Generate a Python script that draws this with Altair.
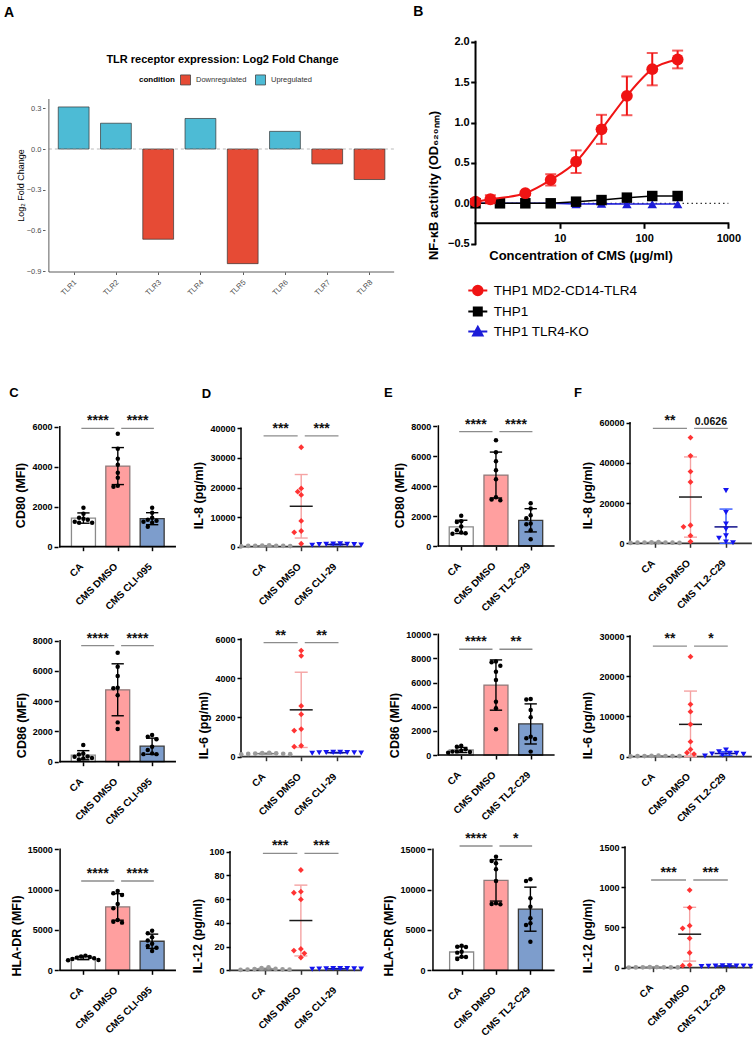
import altair as alt
import pandas as pd

FONT = "Liberation Sans"

# ---------------- A: TLR receptor expression ----------------
TLR_NAMES = ["TLR1", "TLR2", "TLR3", "TLR4", "TLR5", "TLR6", "TLR7", "TLR8"]
TLR_LOG2FC = [0.31, 0.19, -0.665, 0.225, -0.845, 0.13, -0.11, -0.225]

# ---------------- B: NF-kB reporter dose response ----------------
SERIES_B = ["THP1 MD2-CD14-TLR4", "THP1", "THP1 TLR4-KO"]
CONC_TLR4 = [1, 1.5, 3.9, 7.8, 15.6, 31.25, 62.5, 125, 250]
OD_TLR4 = [0.02, 0.05, 0.125, 0.29, 0.515, 0.915, 1.33, 1.66, 1.78]
SD_TLR4 = [0.03, 0.05, 0.02, 0.07, 0.14, 0.18, 0.24, 0.20, 0.11]
CONC_THP1 = [1, 1.95, 3.9, 7.8, 15.6, 31.25, 62.5, 125, 250]
OD_THP1 = [0.0, 0.0, 0.0, 0.0, 0.02, 0.04, 0.07, 0.09, 0.09]
OD_KO = [0.0, 0.0, 0.0, 0.0, -0.01, -0.005, -0.01, -0.01, -0.01]

# ---------------- C: surface markers, CLI-095 ----------------
CD80_CLI_CA = [1950, 1650, 1450, 1400, 1350, 1250, 1200, 1200]
CD80_CLI_DMSO = [5650, 4900, 4400, 4100, 3700, 3450, 3050, 3000]
CD80_CLI_INH = [1950, 1700, 1450, 1350, 1300, 1250, 1200, 1000]
CD86_CLI_CA = [1100, 550, 480, 350, 330, 250, 220, 150]
CD86_CLI_DMSO = [7200, 6280, 5660, 4890, 4850, 4400, 2600, 2160]
CD86_CLI_INH = [1760, 1650, 1480, 990, 770, 550, 500, 500]
HLA_CLI_CA = [1820, 1700, 1650, 1570, 1490, 1400, 1280, 1250]
HLA_CLI_DMSO = [9835, 9545, 9340, 8220, 7690, 6240, 6030, 5910]
HLA_CLI_INH = [4900, 4600, 4100, 3700, 3300, 3000, 2800, 2400]

# ---------------- D: cytokines, CLI-29 ----------------
IL8_CLI_CA = [450, 300, 250, 350, 200, 150, 300, 250]
IL8_CLI_DMSO = [33600, 19700, 18600, 17500, 8700, 5300, 4850, 1000]
IL8_CLI_INH = [1000, 900, 800, 800, 700, 700, 600, 500]
IL6_CLI_CA = [200, 180, 170, 160, 150, 140, 130, 120]
IL6_CLI_DMSO = [5410, 5140, 2590, 2160, 1410, 1330, 560, 510]
IL6_CLI_INH = [230, 220, 210, 210, 200, 200, 190, 180]
IL12_CLI_CA = [2.5, 1.8, 1.2, 1.0, 0.8, 0.6, 0.5, 0.3]
IL12_CLI_DMSO = [84.6, 66.3, 65.4, 59.8, 18.0, 16.6, 14.3, 10.7]
IL12_CLI_INH = [1.6, 1.5, 1.4, 1.3, 1.2, 1.1, 1.0, 0.9]

# ---------------- E: surface markers, TL2-C29 ----------------
CD80_TL2_CA = [2020, 1650, 1600, 1300, 1050, 900, 850, 820]
CD80_TL2_DMSO = [7050, 6250, 5650, 5050, 4450, 3250, 3100, 3050]
CD80_TL2_INH = [2850, 2500, 2050, 1850, 1500, 1450, 1050, 450]
CD86_TL2_CA = [770, 690, 470, 360, 300, 280, 250, 190]
CD86_TL2_DMSO = [7740, 7680, 7400, 6900, 6220, 4420, 3870, 2130]
CD86_TL2_INH = [4640, 4590, 3730, 3120, 1520, 1380, 1330, 280]
HLA_TL2_CA = [3060, 2930, 2900, 2310, 2190, 1690, 1650, 1400]
HLA_TL2_DMSO = [14090, 13550, 13260, 12520, 11070, 8310, 8220, 8180]
HLA_TL2_INH = [11280, 11070, 8930, 7890, 6450, 5830, 5620, 3550]

# ---------------- F: cytokines, TL2-C29 ----------------
IL8_TL2_CA = [600, 500, 400, 400, 300, 300, 200, 200]
IL8_TL2_DMSO = [52600, 43500, 35700, 30500, 9000, 8200, 3800, 850]
IL8_TL2_INH = [26200, 15300, 9600, 7000, 3800, 2500, 600, 300]
IL6_TL2_CA = [250, 200, 180, 160, 150, 140, 120, 100]
IL6_TL2_DMSO = [24860, 13010, 11190, 8040, 3730, 1820, 990, 660]
IL6_TL2_INH = [1660, 1240, 830, 830, 660, 580, 410, 170]
IL12_TL2_CA = [8, 6, 5, 5, 4, 3, 3, 2]
IL12_TL2_DMSO = [965, 746, 522, 489, 365, 186, 33, 25]
IL12_TL2_INH = [25, 24, 22, 21, 20, 19, 18, 15]

# significance brackets (height in data units) and their labels
SIG_C1, BR_C1 = ["****", "****"], 5920
SIG_D1, BR_D1 = ["***", "***"], 37430
SIG_E1, BR_E1 = ["****", "****"], 7620
SIG_F1, BR_F1 = ["**", "0.0626"], 57200
SIG_C2, BR_C2 = ["****", "****"], 7670
SIG_D2, BR_D2 = ["**", "**"], 5820
SIG_E2, BR_E2 = ["****", "**"], 8760
SIG_F2, BR_F2 = ["**", "*"], 27500
SIG_C3, BR_C3 = ["****", "****"], 11070
SIG_D3, BR_D3 = ["***", "***"], 98.6
SIG_E3, BR_E3 = ["****", "*"], 15410
SIG_F3, BR_F3 = ["***", "***"], 1090

# ---------------- styling ----------------
BAR_FILL = ["#FFFFFF", "#FF9F9F", "#7D9DCC"]
BAR_EDGE = ["#8A8A8A", "#8E7A7A", "#3A3A3A"]
DOT_POINT = ["#9B9B9B", "#FF3333", "#1414F0"]
DOT_SHAPE = ["circle", "diamond", "triangle-down"]
DOT_SIZE = [22, 34, 34]
DOT_ERR = ["#A6A6A6", "#F5A3A3", "#3355FF"]
DOT_MEAN = ["#7A7A7A", "#1A1A1A", "#10108A"]
RED_B = "#F01414"
BLUE_B = "#1C1CD8"


def swarm(values, ymax, height, gap, step):
    """Horizontal pixel offsets that keep the dots of one group apart."""
    placed = []
    offs = [0.0] * len(values)
    order = sorted(range(len(values)), key=lambda i: -values[i])
    cands = [0.0]
    for j in range(1, 25):
        cands += [-j * step, j * step]
    for i in order:
        y = values[i] / ymax * height
        for c in cands:
            if all((c - xo) ** 2 + (y - yo) ** 2 >= gap ** 2 - 1e-9 for yo, xo in placed):
                break
        placed.append((y, c))
        offs[i] = c
    ys = [v / ymax * height for v in values]
    if max(ys) - min(ys) < gap:
        m = (max(offs) + min(offs)) / 2
        offs = [o - m for o in offs]
    return offs


def tag_title(text, dx, dy, fs=13):
    return alt.TitleParams(text, anchor="start", frame="group", dx=dx, dy=dy, offset=0,
                           baseline="alphabetic", fontSize=fs, fontWeight="bold", font=FONT,
                           color="black")


def panel(kind, vals, inh, ytitle, ymax, ystep, canvas, geom, br_y, sig, tag=None):
    # canvas: page box of this cell; geom: axis x, x-axis end, y of top tick, y of zero, x range
    cx0, cy0, cw, chh = canvas
    ax, rx, ty, zy, lo, hi = geom
    ppu = (rx - ax) / (hi - lo)
    ppy = (zy - ty) / ymax
    xd = [lo - (ax - cx0) / ppu, hi + (cx0 + cw - rx) / ppu]
    yd = [-(cy0 + chh - zy) / ppy, ymax + (ty - cy0) / ppy]
    dark = "black" if kind == "bar" else "#333333"
    rows = []
    for gi, v in enumerate(vals):
        if kind == "bar":
            offs = swarm(v, ymax, zy - ty, 4.6, 4.6)
        else:
            offs = swarm(v, ymax, zy - ty, 4.5, 3.5)
        for val, off in zip(v, offs):
            rows.append(dict(idx=gi, val=val, pos=gi + off / ppu,
                             fillc=BAR_FILL[gi], strokec=BAR_EDGE[gi],
                             ptc=DOT_POINT[gi], shp=DOT_SHAPE[gi], sz=DOT_SIZE[gi],
                             errc=DOT_ERR[gi], meanc=DOT_MEAN[gi]))
    df = pd.DataFrame(rows)
    xs = alt.Scale(domain=xd, nice=False, zero=False)
    ys = alt.Scale(domain=yd, nice=False, zero=False)
    xa = alt.Axis(title=None, values=[0, 1, 2],
                  labelExpr="['CA', 'CMS DMSO', '%s'][datum.value]" % inh,
                  labelAngle=-45, labelAlign="right", labelBaseline="alphabetic",
                  labelPadding=16, labelOffset=0, labelFont=FONT, labelFontSize=10,
                  labelFontWeight="bold", labelColor="black", labelOverlap=False,
                  labelFlush=False, tickSize=4, tickWidth=1.5, tickColor=dark, domain=False,
                  grid=False, offset=-(cy0 + chh - zy))
    ya = alt.Axis(title=ytitle, values=list(range(0, int(ymax) + 1, int(ystep))), format="d",
                  grid=False, labelFlush=False, domain=False, offset=-(ax - cx0),
                  labelFont=FONT, labelFontSize=9, labelFontWeight="bold", labelColor="black",
                  labelPadding=2, tickSize=4, tickWidth=1.5, tickColor="black",
                  titleFont=FONT, titleFontSize=12.5, titleFontWeight="bold",
                  titleColor="black", titlePadding=4)

    def X(f):
        return alt.X(f, type="quantitative", scale=xs, axis=xa)

    def Y(f):
        return alt.Y(f, type="quantitative", scale=ys, axis=ya)

    cap_u = 6.5 / ppu
    mean_u = 11.5 / ppu
    base = alt.Chart(df)
    agg = base.transform_aggregate(
        m="mean(val)", s="stdev(val)",
        groupby=["idx", "fillc", "strokec", "errc", "meanc"],
    ).transform_calculate(
        lo="max(0, datum.m - datum.s)", hi="datum.m + datum.s",
        cl="datum.idx - %f" % cap_u, cr="datum.idx + %f" % cap_u,
        ml="datum.idx - %f" % mean_u, mr="datum.idx + %f" % mean_u,
    )
    frame = pd.DataFrame({"x0": [lo], "x1": [hi], "y0": [0], "y1": [ymax]})
    axis_lines = [
        alt.Chart(frame).mark_rule(color="black", strokeWidth=1.5, strokeCap="square").encode(
            x=X("x0"), y=Y("y0"), y2=alt.Y2("y1")),
        alt.Chart(frame).mark_rule(color=dark, strokeWidth=1.7, strokeCap="square").encode(
            x=X("x0"), x2=alt.X2("x1"), y=Y("y0")),
    ]
    layers = []
    if kind == "bar":
        layers.append(agg.mark_bar(size=24, strokeWidth=1.3).encode(
            x=X("idx"), y=Y("m"), y2=alt.Y2(datum=0),
            fill=alt.Fill("fillc:N", scale=None), stroke=alt.Stroke("strokec:N", scale=None)))
        layers += axis_lines
        layers.append(agg.mark_rule(color="black", strokeWidth=1.4).encode(
            x=X("idx"), y=Y("lo"), y2=alt.Y2("hi")))
        for f in ("hi", "lo"):
            layers.append(agg.mark_rule(color="black", strokeWidth=1.4).encode(
                x=X("cl"), x2=alt.X2("cr"), y=Y(f)))
        layers.append(base.mark_circle(size=20, color="black", opacity=1).encode(
            x=X("pos"), y=Y("val")))
    else:
        layers += axis_lines
        layers.append(agg.mark_rule(strokeWidth=1.4).encode(
            x=X("idx"), y=Y("lo"), y2=alt.Y2("hi"), stroke=alt.Stroke("errc:N", scale=None)))
        for f in ("hi", "lo"):
            layers.append(agg.mark_rule(strokeWidth=1.4).encode(
                x=X("cl"), x2=alt.X2("cr"), y=Y(f), stroke=alt.Stroke("errc:N", scale=None)))
        layers.append(agg.mark_rule(strokeWidth=1.5).encode(
            x=X("ml"), x2=alt.X2("mr"), y=Y("m"), stroke=alt.Stroke("meanc:N", scale=None)))
        layers.append(base.mark_point(filled=True, opacity=1, strokeWidth=0).encode(
            x=X("pos"), y=Y("val"),
            fill=alt.Fill("ptc:N", scale=None), shape=alt.Shape("shp:N", scale=None),
            size=alt.Size("sz:Q", scale=None)))
    x1 = [-0.06, 1.1]
    x2 = [0.9, 2.05]
    br = pd.DataFrame({"x1": x1, "x2": x2, "y": [br_y, br_y], "label": sig,
                       "xm": [(a + b) / 2 for a, b in zip(x1, x2)],
                       "fs": [14 if "*" in s else 10.5 for s in sig]})
    layers.append(alt.Chart(br).mark_rule(color="#8C8C8C", strokeWidth=1.3).encode(
        x=X("x1"), x2=alt.X2("x2"), y=Y("y")))
    layers.append(alt.Chart(br).mark_text(font=FONT, fontWeight="bold", baseline="alphabetic",
                                          dy=-3, color="#111111").encode(
        x=X("xm"), y=Y("y"), text="label:N", size=alt.Size("fs:Q", scale=None)))
    ch = alt.layer(*layers).properties(width=cw, height=chh)
    if tag is not None:
        ch = ch.properties(title=tag)
    return ch


# ---------------- chart A (canvas 0..405 x 0..370) ----------------
A_W, A_H = 405, 370
A_STEP, A_C0 = 43.33, 70.4          # band step and first bar centre (px)
A_ZERO, A_PPY = 149.0, 135.67       # y of 0 and px per log2 unit
A_LEFT, A_RIGHT, A_TOP, A_BOTTOM = 45.0, 399.0, 99.0, 272.0
ax_lo = (A_LEFT - A_C0) / A_STEP
ax_hi = (A_RIGHT - A_C0) / A_STEP
ay_lo = -(A_BOTTOM - A_ZERO) / A_PPY
ay_hi = (A_ZERO - A_TOP) / A_PPY
xsA = alt.Scale(domain=[-A_C0 / A_STEP, (A_W - A_C0) / A_STEP], nice=False, zero=False)
ysA = alt.Scale(domain=[-(A_H - A_ZERO) / A_PPY, A_ZERO / A_PPY], nice=False, zero=False)
axA = alt.Axis(title="TLR receptor expression: Log2 Fold Change", titleX=222, titleY=62.7 - A_BOTTOM,
               titleAlign="center", titleBaseline="alphabetic", titleAngle=0, titleFont=FONT,
               titleFontSize=11, titleFontWeight="bold", titleColor="black",
               values=list(range(8)), labelExpr="%s[datum.value]" % str(TLR_NAMES),
               labelAngle=-45, labelAlign="right", labelBaseline="alphabetic", labelFont=FONT,
               labelFontSize=7.5, labelColor="#4D4D4D", labelPadding=7.8, labelOffset=2.9,
               labelFlush=False, labelOverlap=False, tickSize=2.5, tickColor="#333333",
               tickWidth=0.8, domain=False, grid=False, offset=-(A_H - A_BOTTOM))
ayA = alt.Axis(title="Log₂ Fold Change", values=[-0.9, -0.6, -0.3, 0.0, 0.3], format=".1f",
               grid=False, labelFlush=False, labelFont=FONT, labelFontSize=7.5,
               labelColor="#4D4D4D", labelPadding=1.5, tickSize=2.5, tickColor="#333333",
               tickWidth=0.8, domain=False, offset=-A_LEFT,
               titleFont=FONT, titleFontSize=9, titleFontWeight="normal",
               titleColor="black", minExtent=20, maxExtent=20, titlePadding=0)


def XA(f):
    return alt.X(f, type="quantitative", scale=xsA, axis=axA)


def YA(f):
    return alt.Y(f, type="quantitative", scale=ysA, axis=ayA)


dfA = pd.DataFrame({"idx": list(range(len(TLR_NAMES))), "lfc": TLR_LOG2FC})
dfA["condition"] = ["Upregulated" if v > 0 else "Downregulated" for v in TLR_LOG2FC]
legA = alt.Legend(orient="none", legendX=139, legendY=74, direction="horizontal",
                  title="condition", titleOrient="left", titleFont=FONT, titleFontSize=8,
                  titleFontWeight="bold", titleColor="black", titlePadding=5,
                  labelFont=FONT, labelFontSize=7.5, labelColor="#333333", labelOffset=5,
                  symbolType="square", symbolSize=100, symbolStrokeColor="#444444",
                  symbolStrokeWidth=0.8, columnPadding=6, padding=0)
barsA = alt.Chart(dfA).mark_bar(size=30.8, stroke="#333333", strokeWidth=0.7).encode(
    x=XA("idx"), y=YA("lfc"), y2=alt.Y2(datum=0),
    color=alt.Color("condition:N", scale=alt.Scale(domain=["Downregulated", "Upregulated"],
                                                   range=["#E64B35", "#4DBBD5"]), legend=legA))
frameA = pd.DataFrame({"x0": [ax_lo], "x1": [ax_hi], "y0": [ay_lo], "y1": [ay_hi], "z": [0.0]})
zeroA = alt.Chart(frameA).mark_rule(strokeDash=[3, 3], color="#9E9E9E", strokeWidth=0.7).encode(
    x=XA("x0"), x2=alt.X2("x1"), y=YA("z"))
yLineA = alt.Chart(frameA).mark_rule(color="#333333", strokeWidth=0.8).encode(
    x=XA("x0"), y=YA("y0"), y2=alt.Y2("y1"))
xLineA = alt.Chart(frameA).mark_rule(color="#333333", strokeWidth=0.8).encode(
    x=XA("x0"), x2=alt.X2("x1"), y=YA("y0"))
chartA = alt.layer(barsA, zeroA, yLineA, xLineA).properties(
    width=A_W, height=A_H, title=tag_title("A", 4, 31, 14))

# ---------------- chart B (canvas 405..756 x 0..370) ----------------
B_X0, B_W, B_H = 405, 351, 370
B_AX, B_DEC = 475.7, 84.5           # x of conc 1 and px per decade
B_ZERO, B_PPY = 203.3, 80.8         # y of OD 0 and px per OD unit
B_XAXIS_Y = 223.3                   # where the x axis crosses
xsB = alt.Scale(type="log", nice=False,
                domain=[10 ** (-(B_AX - B_X0) / B_DEC), 10 ** (3 + (B_X0 + B_W - 728.3) / B_DEC)])
ysB = alt.Scale(domain=[-(B_H - B_ZERO) / B_PPY, B_ZERO / B_PPY], nice=False, zero=False)
axB = alt.Axis(values=[10, 100, 1000], format="d", title="Concentration of CMS (μg/ml)",
               offset=-(B_H - B_XAXIS_Y), domain=False, grid=False, labelFlush=False,
               labelFont=FONT, labelFontSize=11, labelFontWeight="bold", labelColor="black",
               labelPadding=4, tickSize=5, tickWidth=2, tickColor="black",
               titleFont=FONT, titleFontSize=13, titleFontWeight="bold",
               titleColor="black", titlePadding=6)
ayB = alt.Axis(values=[-0.5, 0, 0.5, 1, 1.5, 2], format=".1f", title="NF-κB activity (OD₆₂₀ₙₘ)",
               grid=False, labelFlush=False, domain=False, offset=-(B_AX - B_X0),
               labelFont=FONT, labelFontSize=11, labelFontWeight="bold", labelColor="black",
               labelPadding=1.5, tickSize=5, tickWidth=2, tickColor="black",
               titleFont=FONT, titleFontSize=13, titleFontWeight="bold", titleColor="black",
               minExtent=35, maxExtent=35, titlePadding=0)


def XB(f):
    return alt.X(f, type="quantitative", scale=xsB, axis=axB)


def YB(f):
    return alt.Y(f, type="quantitative", scale=ysB, axis=ayB)


dfT = pd.DataFrame({"conc": CONC_TLR4, "od": OD_TLR4, "sd": SD_TLR4})
dfP = pd.DataFrame({"conc": CONC_THP1, "od": OD_THP1})
dfK = pd.DataFrame({"conc": CONC_THP1, "od": OD_KO})
frameB = pd.DataFrame({"c0": [1], "c1": [1000], "lo": [-0.5], "hi": [2.0], "z": [0.0],
                       "xa": [-(B_XAXIS_Y - B_ZERO) / B_PPY]})

zeroB = alt.Chart(frameB).mark_rule(strokeDash=[1.5, 3], color="black", strokeWidth=1).encode(
    x=XB("c0"), x2=alt.X2("c1"), y=YB("z"))
yLineB = alt.Chart(frameB).mark_rule(color="black", strokeWidth=2, strokeCap="square").encode(
    x=XB("c0"), y=YB("lo"), y2=alt.Y2("hi"))
xLineB = alt.Chart(frameB).mark_rule(color="black", strokeWidth=2, strokeCap="square").encode(
    x=XB("c0"), x2=alt.X2("c1"), y=YB("xa"))
lineK = alt.Chart(dfK).mark_line(color=BLUE_B, strokeWidth=1.5).encode(x=XB("conc"), y=YB("od"))
ptK = alt.Chart(dfK).mark_point(shape="triangle-up", filled=True, size=90, color=BLUE_B,
                                opacity=1).encode(x=XB("conc"), y=YB("od"))
lineP = alt.Chart(dfP).mark_line(color="black", strokeWidth=1.5).encode(x=XB("conc"), y=YB("od"))
ptP = alt.Chart(dfP).mark_point(shape="square", filled=True, size=110, color="black",
                                opacity=1).encode(x=XB("conc"), y=YB("od"))
errBase = alt.Chart(dfT).transform_calculate(lo="datum.od - datum.sd", hi="datum.od + datum.sd")
errT = errBase.mark_rule(color=RED_B, strokeWidth=2).encode(x=XB("conc"), y=YB("lo"),
                                                            y2=alt.Y2("hi"))
capHi = errBase.mark_tick(orient="horizontal", size=11, thickness=2, color=RED_B).encode(
    x=XB("conc"), y=YB("hi"))
capLo = errBase.mark_tick(orient="horizontal", size=11, thickness=2, color=RED_B).encode(
    x=XB("conc"), y=YB("lo"))
lineT = alt.Chart(dfT).mark_line(color=RED_B, strokeWidth=2, interpolate="monotone").encode(
    x=XB("conc"), y=YB("od"))
ptT = alt.Chart(dfT).mark_point(shape="circle", filled=True, size=140, color=RED_B,
                                opacity=1).encode(x=XB("conc"), y=YB("od"))

LEG_PATHS = [
    "M-1,0H1M0.5,0A0.5,0.5,0,1,1,-0.5,0A0.5,0.5,0,1,1,0.5,0Z",
    "M-1,0H1M-0.42,-0.42H0.42V0.42H-0.42Z",
    "M-1,0H1M0,-0.5L0.5,0.42H-0.5Z",
]
legB = alt.Legend(title=None, orient="none", legendX=467.3 - B_X0, legendY=280, symbolSize=361,
                  symbolStrokeWidth=2, labelFont=FONT, labelFontSize=13.5, labelColor="black",
                  labelOffset=5.4, rowPadding=1, padding=0, labelLimit=300)
colB = alt.Scale(domain=SERIES_B, range=[RED_B, "black", BLUE_B])
legendLayer = alt.Chart(pd.DataFrame({"series": SERIES_B})).transform_filter("false").mark_point(
    filled=True, opacity=1, strokeWidth=2).encode(
    fill=alt.Fill("series:N", scale=colB, legend=legB),
    stroke=alt.Stroke("series:N", scale=colB, legend=legB),
    shape=alt.Shape("series:N", scale=alt.Scale(domain=SERIES_B, range=LEG_PATHS), legend=legB))

chartB = alt.layer(zeroB, lineK, ptK, lineP, ptP, errT, capHi, capLo, lineT, ptT, yLineB, xLineB,
                   legendLayer).properties(width=B_W, height=B_H,
                                           title=tag_title("B", 413.3 - B_X0, 30, 14))

# ---------------- panels C-F ----------------
COLS = [(0, 182), (182, 190), (372, 195), (567, 189)]
ROWS = [(370, 250), (620, 210), (830, 211)]


def cv(c, r):
    return (COLS[c][0], ROWS[r][0], COLS[c][1], ROWS[r][1])


C1 = panel("bar", (CD80_CLI_CA, CD80_CLI_DMSO, CD80_CLI_INH), "CMS CLI-095", "CD80 (MFI)",
           6000, 2000, cv(0, 0), (58, 180, 426.7, 546.7, -0.688, 2.668), BR_C1, SIG_C1,
           tag_title("C", 9.3, 40))
D1 = panel("dot", (IL8_CLI_CA, IL8_CLI_DMSO, IL8_CLI_INH), "CMS CLI-29", "IL-8 (pg/ml)",
           40000, 10000, cv(1, 0), (241, 360, 428.3, 546.7, -0.696, 2.656), BR_D1, SIG_D1,
           tag_title("D", 19.7, 41))
E1 = panel("bar", (CD80_TL2_CA, CD80_TL2_DMSO, CD80_TL2_INH), "CMS TL2-C29", "CD80 (MFI)",
           8000, 2000, cv(2, 0), (436.7, 558.3, 426, 546, -0.658, 2.664), BR_E1, SIG_E1,
           tag_title("E", 12, 40))
F1 = panel("dot", (IL8_TL2_CA, IL8_TL2_DMSO, IL8_TL2_INH), "CMS TL2-C29", "IL-8 (pg/ml)",
           60000, 20000, cv(3, 0), (630, 751, 422.7, 543.3, -0.704, 2.704), BR_F1, SIG_F1,
           tag_title("F", 7, 40))
C2 = panel("bar", (CD86_CLI_CA, CD86_CLI_DMSO, CD86_CLI_INH), "CMS CLI-095", "CD86 (MFI)",
           8000, 2000, cv(0, 1), (58.3, 180, 640.7, 761.7, -0.673, 2.668), BR_C2, SIG_C2)
D2 = panel("dot", (IL6_CLI_CA, IL6_CLI_DMSO, IL6_CLI_INH), "CMS CLI-29", "IL-6 (pg/ml)",
           6000, 2000, cv(1, 1), (241, 360, 639, 756.7, -0.696, 2.656), BR_D2, SIG_D2)
E2 = panel("bar", (CD86_TL2_CA, CD86_TL2_DMSO, CD86_TL2_INH), "CMS TL2-C29", "CD86 (MFI)",
           10000, 2000, cv(2, 1), (436.7, 558.3, 634.3, 755, -0.658, 2.664), BR_E2, SIG_E2)
F2 = panel("dot", (IL6_TL2_CA, IL6_TL2_DMSO, IL6_TL2_INH), "CMS TL2-C29", "IL-6 (pg/ml)",
           30000, 10000, cv(3, 1), (630, 751, 636, 756.7, -0.704, 2.704), BR_F2, SIG_F2)
C3 = panel("bar", (HLA_CLI_CA, HLA_CLI_DMSO, HLA_CLI_INH), "CMS CLI-095", "HLA-DR (MFI)",
           15000, 5000, cv(0, 2), (58.3, 180, 849.3, 970.3, -0.673, 2.668), BR_C3, SIG_C3)
D3 = panel("dot", (IL12_CLI_CA, IL12_CLI_DMSO, IL12_CLI_INH), "CMS CLI-29", "IL-12 (pg/ml)",
           100, 20, cv(1, 2), (230, 360, 851.7, 970.3, -0.978, 2.65), BR_D3, SIG_D3)
E3 = panel("bar", (HLA_TL2_CA, HLA_TL2_DMSO, HLA_TL2_INH), "CMS TL2-C29", "HLA-DR (MFI)",
           15000, 5000, cv(2, 2), (431, 558.3, 849.3, 970.3, -0.833, 2.679), BR_E3, SIG_E3)
F3 = panel("dot", (IL12_TL2_CA, IL12_TL2_DMSO, IL12_TL2_INH), "CMS TL2-C29", "IL-12 (pg/ml)",
           1500, 500, cv(3, 2), (625, 751.7, 847, 967.7, -0.779, 2.707), BR_F3, SIG_F3)

RES = dict(color="independent", fill="independent", stroke="independent", shape="independent")
top = alt.hconcat(chartA, chartB, spacing=0).resolve_scale(**RES).resolve_legend(**RES)
row1 = alt.hconcat(C1, D1, E1, F1, spacing=0)
row2 = alt.hconcat(C2, D2, E2, F2, spacing=0)
row3 = alt.hconcat(C3, D3, E3, F3, spacing=0)

chart = alt.vconcat(top, row1, row2, row3, spacing=0).resolve_scale(**RES).resolve_legend(
    **RES).properties(padding=0).configure_view(stroke=None)

chart.save("out.html", embed_options={"renderer": "svg", "actions": False})
